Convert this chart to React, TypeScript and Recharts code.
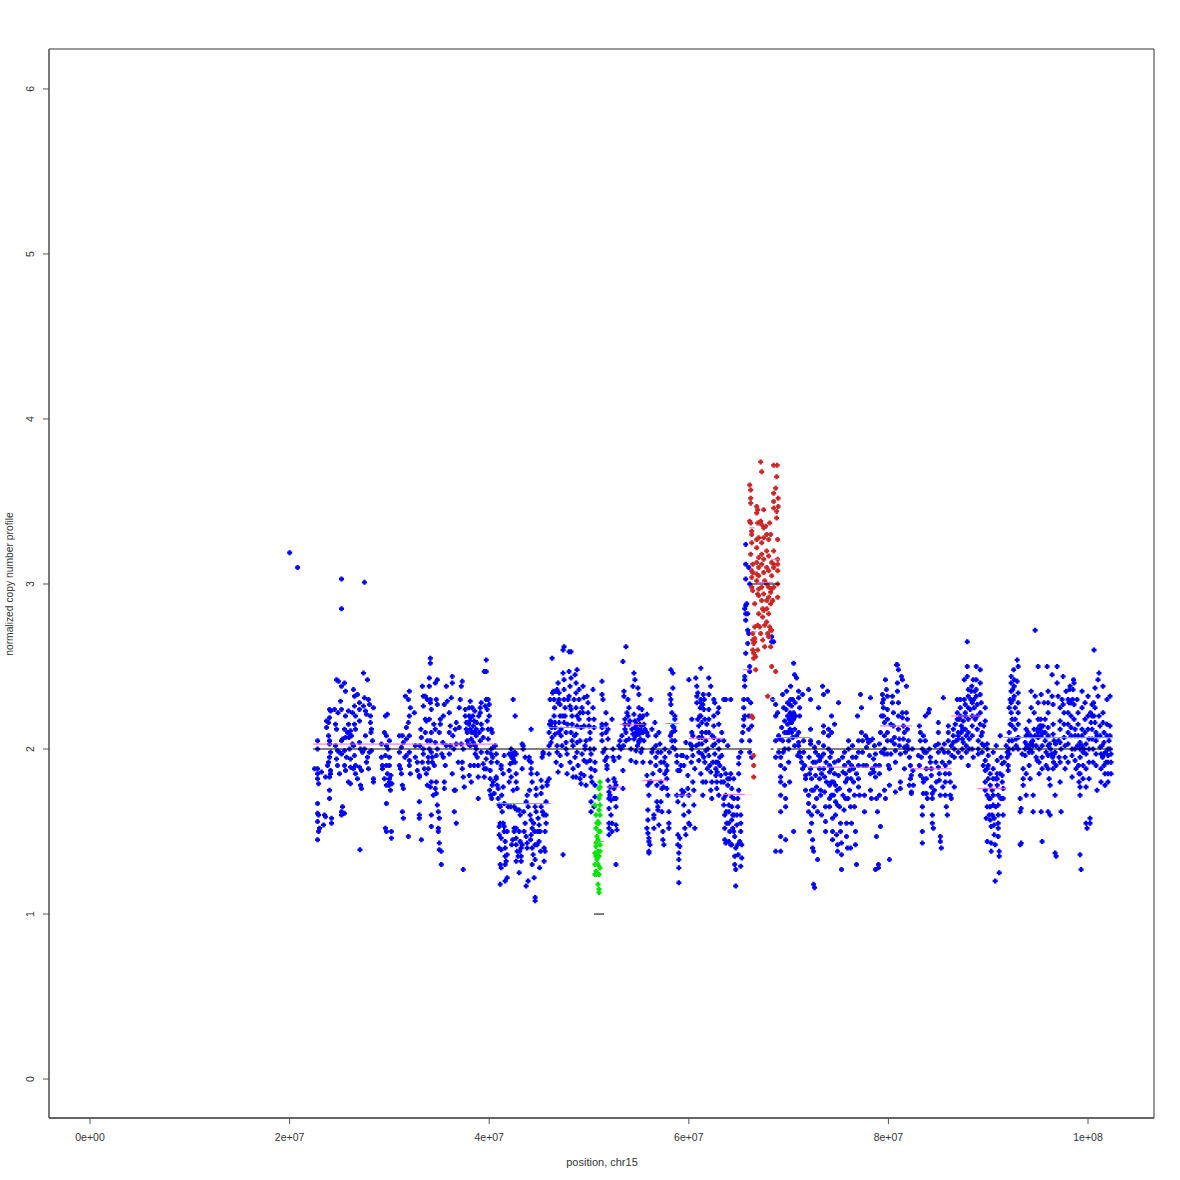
import React from "react";
import { ScatterChart, Scatter, XAxis, YAxis, ReferenceArea } from "recharts";

type P = [number, number];
// positions in Mb, values in copy number
const outliers: P[] = [[20,3.19],[20.8,3.1],[25.2,3.03],[25.2,2.85],[27.5,3.01],[27.05,1.39],[37.4,1.27],[47.4,1.36]];
const blue22: P[] = [[22.5,1.88],[22.8,2.05],[22.8,2],[22.8,1.88],[22.8,1.85],[22.8,1.82],[22.9,1.79],[22.8,1.67],[22.8,1.61],[22.9,1.6],[22.8,1.56],[22.9,1.5],[22.8,1.45],[23,1.52],[23.2,1.86],[23.4,1.54],[23.5,1.6],[23.6,1.83],[23.6,1.59],[23.8,1.9],[23.7,2.13],[23.7,2.17],[23.9,2.08],[24,2.24],[24.1,2.23],[24,2.19],[23.9,2.16],[24,2.05],[24,2.03],[24.1,1.98],[24,1.95],[23.9,1.92],[24.1,1.87],[24.1,1.85],[24,1.83],[24,1.75],[24,1.7],[24.2,1.58],[24.2,1.55],[24.5,2.24],[24.7,2.42],[24.9,2.41],[24.6,2.15],[24.7,2.12],[24.6,2.02],[24.8,1.99],[25,1.98],[24.7,1.94],[24.8,1.9],[25,1.85],[25.2,2.24],[25.1,2.29],[25.2,2.38],[25.2,2.05],[25.2,1.97],[25.2,1.62],[25.2,1.6],[25.3,1.65],[25.5,1.61],[25.5,2.4],[25.6,2.35],[25.6,2.2],[25.5,2.12],[25.6,2.07],[25.5,1.99],[25.7,1.95],[25.5,1.9],[25.6,1.87],[25.9,2.23],[25.9,2.15],[26,2.09],[26.2,2.08],[26,2],[26.1,1.94],[26.1,1.89],[25.9,1.8],[26.1,1.79],[26.3,2.22],[26.4,2.36],[26.5,2.32],[26.5,2.26],[26.6,2.2],[26.5,2.15],[26.6,2.12],[26.4,2.02],[26.5,1.96],[26.6,1.9],[26.4,1.88],[26.6,1.85],[26.8,1.82],[26.8,2.33],[27,2.28],[27,2.24],[27,2.17],[27,2.04],[27.1,2],[27,1.89],[27.2,1.87],[27.1,1.78],[27.2,1.76],[27.4,2.46],[27.4,2.26],[27.5,2.31],[27.6,2.23],[27.7,2.21],[27.8,2.42],[27.9,2.3],[27.6,2.08],[27.5,2],[27.8,1.95],[27.7,1.92],[27.9,1.88],[28,2.27],[28.1,2.2],[28.1,2.16],[28.2,2.12],[28.3,2.05],[28.4,2.25],[28,1.98],[28.2,1.99],[28.4,1.8],[28.4,1.82]];
const blue29: P[] = [[29.2,2.03],[29.2,1.95],[29.3,1.88],[29.3,1.9],[29.5,2.1],[29.5,1.82],[29.6,2.2],[29.7,2.08],[29.7,2.02],[29.8,2.21],[29.6,1.96],[29.7,1.9],[29.8,1.85],[29.7,1.78],[29.7,1.67],[29.6,1.52],[29.7,1.5],[30,2.05],[30,1.95],[30,1.9],[30,1.82],[30,1.8],[30.1,1.75],[30.2,1.46],[30.2,1.5],[31,2.08],[31,1.98],[31,1.9],[31.1,1.88],[31.2,1.85],[31.2,2.01],[31.3,2.08],[31.3,1.78],[31.4,1.76],[31.3,1.62],[31.4,1.58],[31.4,2.04],[31.6,2.32],[31.7,2.06],[31.7,2.13],[31.7,1.96],[31.9,2.16],[31.9,2.3],[32,2.35],[32.1,2.25],[32,2.2],[32,2.08],[32,1.98],[32,1.93],[32,1.9],[32.1,1.85],[31.9,1.47],[32.5,2.22],[32.6,2.02],[32.6,1.95],[32.8,1.92],[32.8,1.87],[33,1.84],[33,1.83],[33,1.68],[33,1.6],[33,1.58],[33.2,1.45],[33.3,2.38],[33.4,2.32],[33.4,2.26],[33.2,2.07],[33.4,2],[33.4,1.97],[33.3,1.92],[33.5,1.88],[33.6,2.32],[33.6,2.18],[33.8,2.3],[33.8,2.05],[33.7,2.17],[33.6,2.1],[33.9,1.95],[33.9,1.92],[33.9,1.88],[33.7,1.85],[33.8,1.78],[34.1,2.55],[34.1,2.52],[34,2.43],[34,2.38],[34.1,2.3],[34.1,2.28],[34.2,2.24],[34,2.18],[34.2,2.1],[34.1,2.05],[34,2],[34.2,1.98],[34.3,1.95],[34.3,1.92],[34.2,1.8],[34.1,1.77],[34.4,1.72],[34.2,1.6],[34.2,1.53],[34.6,2.4],[34.7,2.3],[34.8,2.27],[34.8,2.42],[34.6,2.12],[34.6,2.04],[34.7,1.96],[34.8,2],[34.6,1.76],[34.7,1.8],[34.7,1.73],[34.8,1.66],[34.9,1.62],[35,1.58],[34.9,1.52],[34.9,1.5],[35,1.43],[35,1.39],[35.2,1.3],[35.2,1.38],[35,2.1],[35.1,2.15],[35.1,2.18],[35.4,2.2],[35.5,2.27],[35.4,1.95],[35.6,1.9],[35.5,1.8],[35.5,1.76],[35.7,2.38],[36,2.1],[36.1,2.14],[36.1,2.02],[36,1.97],[35.8,2.29],[36,2.22],[36.2,2.31],[36.3,2.44],[36.3,2.4],[36.3,1.85],[36.5,1.75],[36.5,1.62],[36.6,1.75],[36.7,1.55],[36.7,2.03],[36.6,2.12],[36.7,2.16]];
const blue37: P[] = [[37,2.13],[37,2.25],[37.1,2.3],[37.2,2.38],[37.3,2.41],[37.2,2.03],[37.4,2],[37.3,1.92],[37.3,1.88],[37.4,1.83],[37.5,1.77],[37.6,2.24],[37.6,2.2],[37.7,2.16],[37.8,2.1],[37.8,2.05],[37.9,2.03],[38,2.2],[38,2.25],[38.1,2.29],[38.1,2.12],[38.1,2.02],[38.1,1.9],[38,1.84],[38.2,1.8],[38.3,2.25],[38.4,2.14],[38.5,2.1],[38.4,2.04],[38.5,2.17],[38.5,2.1],[38.7,2.08],[38.7,2.12],[38.6,2.02],[38.7,2],[38.6,1.97],[38.5,1.9],[38.8,1.95],[38.9,1.9],[38.9,1.83],[38.9,1.7],[39.1,2.25],[39.2,2.28],[39.1,2.22],[39.2,2.15],[39.3,2.12],[39.1,2.05],[39.2,1.98],[39.4,2.07],[39.4,1.91],[39.5,1.88],[39.5,1.83],[39.6,2.26],[39.7,2.3],[39.8,2.24],[39.7,2.54],[39.7,2.47],[39.5,2.47],[39.9,2.3],[39.8,2.17],[39.9,2.12],[39.9,2.06],[39.8,1.98],[39.7,1.94],[39.7,1.88],[40,2.27],[40,2.2],[40.2,2.12],[40.3,2.1],[40.2,2],[40.2,1.97],[40.2,1.92],[40.1,1.87],[40.1,1.82],[40.3,1.78],[40.4,1.8],[40.4,2.01],[40.6,2.02],[40.7,1.97],[40.8,1.92],[40.7,1.83],[40.7,1.82],[40.8,1.78],[40.9,1.76]];
const blue41: P[] = [[40.9,1.7],[41,1.66],[41.1,1.65],[41.1,1.55],[41,1.53],[41,1.48],[41.2,1.46],[41,1.4],[41.2,1.39],[41.1,1.3],[41.2,1.28],[41.1,1.18],[41.2,1.9],[41.2,1.88],[41.5,1.96],[41.4,1.85],[41.4,1.77],[41.5,1.67],[41.4,1.55],[41.5,1.53],[41.5,1.5],[41.6,1.44],[41.6,1.4],[41.6,1.35],[41.6,1.3],[41.6,1.2],[41.7,1.32],[41.8,1.36],[41.8,1.22],[41.8,1.5],[41.9,1.65],[42,1.8],[42,1.97],[42.1,1.91],[42,1.87],[42.2,1.83],[42.2,1.97],[42.2,2],[42.4,2.3],[42.4,1.94],[42.4,1.75],[42.5,1.65],[42.5,1.52],[42.5,1.5],[42.6,2.2],[42.7,1.97],[42.6,1.92],[42.7,1.85],[42.7,1.8],[42.8,1.76],[42.6,1.64],[42.8,1.63],[42.7,1.52],[42.7,1.46],[42.7,1.42],[42.8,1.38],[42.7,1.32],[43,1.63],[43.1,1.6],[43,1.5],[43.1,1.44],[43.2,1.4],[43.3,1.42],[43.2,1.35],[43.2,1.32],[43,1.25],[43.3,2.03],[43.4,2.02],[43.4,2],[43.3,1.88],[43.6,1.95],[43.7,1.68],[43.6,1.55],[43.8,1.72],[43.9,1.65],[43.7,1.47],[43.8,1.43],[43.8,1.4],[43.9,1.2],[43.7,1.17],[44,1.95],[44,1.93],[44.2,2.12],[44.2,1.92],[44.2,1.88],[44.2,1.85],[44.3,1.8],[44.1,1.6],[44.2,1.57],[44.3,1.52],[44.2,1.48],[44.3,1.4],[44.4,1.36],[44.3,1.3],[44.5,1.22],[44.6,1.1],[44.6,1.08],[44.6,1.33],[44.6,1.42],[44.7,1.62],[44.6,1.65],[44.7,1.72],[44.7,1.76],[44.8,1.85],[44.9,1.58],[45,1.54],[45.1,1.5],[45,1.44],[45.2,1.65],[45.2,1.73],[45.3,1.77],[45.2,1.81],[45.3,1.95],[45.4,1.98],[45.4,1.97],[45.5,1.4],[45.5,1.32],[45.6,1.38],[45.6,1.5],[45.7,1.55],[45.7,1.6],[45.7,1.68],[45.8,1.78],[45.8,1.8],[46,1.82],[46,1.97],[46,2.02],[46,2.1],[46.2,2.04],[46.3,2.07],[46.3,2.16],[46.1,2.3],[46.3,2.55]];
const blue46: P[] = [[46.5,2.3],[46.5,2.2],[46.6,2.16],[46.6,2.13],[46.6,2.09],[46.8,2.02],[46.8,1.98],[46.7,1.92],[46.9,1.86],[46.7,2.35],[46.8,2.36],[46.9,2.4],[47,2.34],[47,2.3],[47.1,2.27],[47.1,2.2],[47,2.16],[47.2,2.12],[47.2,2.08],[47.2,1.9],[47.1,1.96],[47.3,2.02],[47.4,2.6],[47.5,2.62],[47.4,2.46],[47.5,2.42],[47.5,2.36],[47.5,2.3],[47.6,2.25],[47.6,2.2],[47.5,2.16],[47.7,2.1],[47.7,2.04],[47.7,2],[47.8,1.97],[47.8,1.85],[48,2.59],[48.2,2.59],[48,2.47],[48.2,2.43],[48.1,2.38],[48,2.32],[48.1,2.26],[48.2,2.24],[48.3,2.2],[48.3,2.15],[48.2,2.1],[48.3,2.05],[48.4,2.02],[48.1,1.92],[48.4,1.88],[48.4,1.83],[48.6,2.45],[48.7,2.4],[48.8,2.48],[48.7,2.34],[48.7,2.25],[48.8,2.2],[48.8,2.14],[48.7,2.09],[48.8,2.04],[48.8,1.98],[48.9,1.9],[48.7,1.83],[49,2.36],[49,2.3],[49.1,2.22],[49,2.18],[49.2,2.13],[49.1,2.05],[49.2,1.85],[49.1,1.82],[49.2,1.79],[49.4,2.38],[49.5,2.31],[49.4,2.22],[49.5,2.14],[49.6,2.02],[49.6,2],[49.5,1.93],[49.5,1.84],[49.7,1.78],[49.8,2.32],[49.9,2.28],[49.9,2.22],[50,2.18],[50,2.14],[50.1,2.1],[50.1,2.06],[50.1,2],[50.2,1.97],[50.1,1.93],[50.2,1.88],[50.2,1.83],[50.3,1.8],[50.2,1.68],[50.2,1.62],[50.4,2.36],[50.4,2.25],[50.5,2.18],[50.5,2.13],[50.5,2],[50.6,1.92],[50.6,1.87],[50.6,1.78],[50.6,1.71],[50.5,1.65]];
const blue51: P[] = [[51.3,2.41],[51.3,2.33],[51.4,2.3],[51.3,2.15],[51.3,2.13],[51.3,2.09],[51.3,2.05],[51.4,1.98],[51.6,1.93],[51.7,2.22],[51.7,2.15],[51.7,2.1],[51.6,2],[51.9,2.12],[51.9,2.06],[51.8,1.95],[51.8,1.9],[51.8,1.88],[51.9,1.81],[52,1.74],[52,1.7],[52,1.64],[52,1.55],[52,1.52],[52,1.48],[52.1,1.77],[52.1,1.72],[52.2,1.69],[52.2,1.6],[52.3,1.55],[52.3,1.5],[52.3,2.18],[52.4,2],[52.4,1.95],[52.5,1.93],[52.5,1.82],[52.5,1.76],[52.5,1.7],[52.6,1.8],[52.7,1.78],[52.7,1.7],[52.7,1.65],[52.7,1.54],[52.8,1.51],[52.7,1.3],[53,1.95],[53,2.02],[53.1,2.05],[53.2,2],[53.4,2.53],[53.5,2.35],[53.5,2.32],[53.4,1.87],[53.4,1.76],[53.6,2.15],[53.6,2.12],[53.7,2.62],[53.6,2.18],[53.7,2.1],[53.7,2.05],[53.9,2.3],[53.8,2.22],[53.9,2.2],[54,2.25],[54,2.15],[54.1,2.17],[54,2.06],[54.2,2],[54.2,1.93],[54.4,2.38],[54.5,2.46],[54.6,2.42],[54.5,2.21],[54.6,2.13],[54.7,2.1],[54.7,2.08],[54.7,1.99],[54.7,1.92],[54.9,2.37],[55,2.33],[55,2.25],[55,2.18],[55.1,2.15],[54.9,2.1],[55.2,2.11],[55,2.05],[55,2.04],[55.2,1.98],[55.3,2.19],[55.3,2.24],[55.4,2.2],[55.5,2.15],[55.4,2.1],[55.6,2.12],[55.5,2.05],[55.3,2],[55.4,1.92],[55.8,2.21],[55.8,2.1],[55.9,2.08],[55.8,1.84],[55.9,1.78],[56,1.72],[55.9,1.63],[55.9,1.57],[55.8,1.52],[55.9,1.49],[56,1.46],[56,1.44],[56.1,1.42],[56,1.38],[56,1.37],[56.1,1.8],[56.3,2.12],[56.2,2.3],[56.3,1.98],[56.2,1.8],[56.4,1.85],[56.5,1.6],[56.5,1.58],[56.5,1.52],[56.6,2.16],[56.7,2.08],[56.7,2.02],[56.7,1.95],[56.7,1.9],[56.8,1.78],[56.8,1.68],[56.9,1.65],[56.9,1.63],[57,1.54],[57,2.1],[57.1,2.03],[57.2,1.98],[57.2,1.92],[57.1,1.87],[57.2,1.8],[57.3,1.76],[57.2,1.68],[57.3,1.62],[57.4,1.45],[57.4,1.5],[57.5,1.42]];
const blue57: P[] = [[57.6,2],[57.6,1.95],[57.6,1.85],[57.8,1.9],[57.8,1.87],[57.8,1.82],[57.8,1.76],[57.9,1.72],[58,1.62],[58,1.55],[58,1.52],[58.2,2.48],[58.4,2.46],[58.1,2.33],[58.2,2.3],[58.2,2.27],[58.4,2.37],[58.3,2.22],[58.4,2.14],[58.5,2.13],[58.3,2.1],[58.3,2.05],[58.4,2.01],[58.6,2.2],[58.6,2.18],[58.6,2.11],[58.6,2.05],[58.6,2],[58.8,1.96],[58.8,1.92],[58.9,1.87],[58.8,1.72],[58.9,1.68],[58.9,1.48],[58.9,1.42],[59,1.37],[59,1.33],[59,1.28],[59,1.19],[59.1,1.46],[59.1,1.41],[59.1,1.87],[59.3,1.72],[59.3,1.75],[59.4,1.96],[59.5,1.9],[59.5,1.74],[59.5,1.66],[59.5,1.6],[59.6,1.52],[59.7,1.48],[59.7,2.04],[59.8,1.95],[59.9,1.84],[59.9,1.76],[60,1.72],[60,1.62],[60,1.55],[60.1,1.54],[60,2.42],[60.3,2.18],[60.3,2.1],[60.4,2.08],[60.3,2.02],[60.3,2],[60.4,1.96],[60.4,1.8],[60.5,1.75],[60.6,1.52],[60.5,1.66],[60.7,2.43],[60.8,2.38],[60.8,2.32],[60.8,2.28],[60.9,2.34],[60.9,2.18],[61,2.14],[61,2.07],[61,2.03],[61,1.98],[61,1.93],[61.2,2.49],[61.2,2.3],[61.2,2.28],[61.2,2.2],[61.3,2.16],[61.3,2.1],[61.3,2.07],[61.3,2.03],[61.3,1.97],[61.2,1.85],[61.4,1.8],[61.4,1.72],[61.5,2.24],[61.6,2.18],[61.7,2.1],[61.7,2.05],[61.7,1.99],[61.6,1.92],[61.7,1.8],[62,2.43],[62.2,2.38],[62,2.33],[62,2.24],[62,2.18],[62,2.1],[61.9,2],[62,1.96],[62.1,1.9],[62.2,1.86],[62.3,1.8],[62.2,1.75],[62.3,1.7],[62.5,2.3],[62.6,2.28],[62.5,2.2],[62.5,2.14],[62.5,2.07],[62.6,2.03],[62.6,1.97],[62.7,1.92],[62.7,1.88],[62.7,1.84],[62.8,1.8],[62.8,1.76],[62.9,2.22],[63,2.25],[63,2.15],[63,2.05],[63,2],[63.1,1.95],[63.1,1.9],[63.2,1.84],[63,1.72],[63.3,1.96],[63.5,2.3],[63.5,2.05],[63.5,1.88],[63.5,1.8],[63.5,1.7],[63.5,1.66],[63.6,1.52],[63.7,2.3],[63.6,1.6],[63.7,1.85],[63.6,1.45],[63.7,1.43]];
const blue64: P[] = [[63.9,2.02],[63.9,1.82],[63.9,1.78],[64,1.66],[64,1.62],[64,1.55],[64,1.44],[64.2,1.42],[64.2,2.3],[64.2,1.85],[64.3,1.76],[64.3,1.71],[64.3,1.65],[64.3,1.57],[64.4,1.52],[64.3,1.42],[64.5,1.82],[64.5,1.7],[64.5,1.6],[64.5,1.5],[64.6,1.47],[64.7,1.4],[64.6,1.35],[64.6,1.3],[64.7,1.27],[64.7,1.17],[64.8,1.54],[64.8,1.6],[64.9,1.7],[64.9,1.65],[65,1.75],[65,1.85],[65,1.91],[65,1.95],[65.2,1.98],[65.3,2.05],[65.2,1.6],[65.2,1.55],[65.2,1.5],[65.3,1.34],[65.3,1.42],[65.2,1.29],[65.4,2.1],[65.5,2.14],[65.5,2.18],[65.6,2.2],[65.5,2.25],[65.5,2.3],[65.6,2.38],[65.6,2.42],[65.6,2.44],[65.7,3.24],[65.7,3.12],[65.7,3.03],[65.7,2.87],[65.6,2.85],[65.7,2.82],[65.7,2.78],[65.7,2.58],[65.8,2.88],[65.9,2.82],[65.9,2.72],[66,2.7],[66,3.1],[66.1,3],[65.9,2.64],[66.1,2.5],[66.1,2.47],[65.9,2.3],[66,2.2],[66,2.12],[66.1,2.05],[66.1,1.98],[66.2,2.28],[66.3,1.95],[66.3,2.14]];
const blue68: P[] = [[68.3,2.68],[68.3,2.65],[68.5,2.65],[68.4,2.3],[68.7,2.27],[68.7,2.2],[68.7,2.05],[68.7,1.95],[68.7,1.38],[68.9,2.22],[69,2.08],[69.1,2.06],[69,1.98],[69.2,1.95],[69.2,1.9],[69.2,1.83],[69.2,1.8],[69.2,1.72],[69.2,1.62],[69.2,1.47],[69.2,1.38],[69.4,2.33],[69.5,2.25],[69.6,2.17],[69.6,2.1],[69.6,2],[69.6,1.88],[69.6,1.78],[69.7,1.7],[69.7,1.65],[69.7,1.45],[69.8,2.35],[69.9,2.28],[69.9,2.2],[69.9,2.15],[70,2.1],[70,2.05],[70,2],[70,1.92],[70.1,1.8],[70.2,2.38],[70.2,2.3],[70.3,2.26],[70.3,2.2],[70.3,2.16],[70.3,2.1],[70.4,2.07],[70.5,2.22],[70.5,2.18],[70.6,2.12],[70.6,2.02],[70.5,2.52],[70.6,2.45],[70.5,1.5],[70.8,2.43],[71,2.35],[71,2.31],[71.1,2.25],[71.1,2.2],[71,2.1],[71,2.04],[71,2.02],[71.1,1.98],[71.2,1.95],[71.3,1.92],[71.4,1.88],[71.4,2.33],[71.5,2.05],[71.5,1.98],[71.6,1.9],[71.7,1.84],[71.7,1.82],[71.7,1.75],[72,1.62],[72,2.36],[72,1.72],[72,1.67],[72.1,1.5],[72.2,2.3],[72.2,2.12],[72.2,2.05],[72.2,2.03],[72.2,1.88],[72.3,1.82],[72.3,1.75],[72.3,1.6],[72.3,1.55],[72.4,1.45],[72.4,1.4],[72.5,1.38],[72.5,1.18],[72.6,1.16],[72.6,2.01],[72.7,1.98],[72.7,1.92],[72.7,1.84],[72.8,1.77],[72.8,1.7],[72.9,1.62],[72.9,1.33],[73,2.25],[73,2.04],[73,1.96],[73.1,1.93],[73.1,1.88],[73.1,1.82],[73.2,1.75],[73.2,1.72],[73.3,1.6],[73.4,2.38],[73.5,2.33],[73.5,2.14],[73.5,2.1],[73.5,2.02],[73.5,1.97],[73.5,1.88],[73.6,1.83],[73.6,1.74],[73.7,1.65],[73.7,1.5],[73.7,1.56],[73.9,2.35],[74,2.12],[74,2.08],[74,2],[74.1,1.9],[74.1,1.86],[74.1,1.78],[74.1,1.7],[74.1,1.65],[74.3,2.2],[74.3,2.1],[74.3,1.98],[74.3,1.88],[74.3,1.8],[74.3,1.72],[74.4,1.58],[74.4,1.5],[74.4,1.45],[74.6,2.15],[74.6,1.92],[74.6,1.85],[74.7,1.78],[74.7,1.68],[74.7,1.6],[74.8,1.48],[74.9,1.42],[74.9,1.38],[75,2.28],[75,1.93],[75,1.84],[75.1,1.76],[75.1,1.65],[75.2,1.55],[75.2,1.5],[75.3,1.43],[75.3,1.36],[75.3,1.27],[75.6,1.98],[75.6,1.9],[75.7,1.85],[75.7,1.8],[75.7,1.7],[75.8,1.55],[75.8,1.47],[75.9,1.4],[76,2],[76,2.05],[76,1.92],[76.1,1.87],[76.1,1.75],[76.2,1.65],[76.3,1.55],[76.2,1.4],[76.4,2.02],[76.4,1.95],[76.5,1.88],[76.5,1.8],[76.6,1.72],[76.6,1.65],[76.7,1.5],[76.7,1.42],[76.8,1.3],[76.9,2.2],[77,2.05],[77,1.98],[77,1.9],[77,1.82],[77,1.77],[77.1,1.72],[77.2,2.33],[77.3,2.25],[77.3,2.1],[77.4,2.05],[77.4,1.98],[77.5,1.9],[77.6,1.62],[77.6,1.72],[77.7,2.08],[77.8,2.01],[77.9,2.06],[77.8,1.9],[78,2.04],[78.1,1.96],[78.2,2.05],[78.2,1.85],[78.2,1.75],[78.3,1.7],[78.2,2.31],[78.4,2.06],[78.4,1.88]];
const blue78: P[] = [[78.6,2.02],[78.7,1.97],[78.7,1.9],[78.7,1.83],[78.8,1.7],[78.9,1.62],[78.8,1.47],[78.7,1.27],[79,1.28],[79,1.3],[79.1,2.03],[79.1,1.9],[79.1,1.85],[79.1,1.72],[79.2,1.53],[79.2,2.1],[79.4,2.28],[79.4,2.33],[79.5,2.3],[79.5,2.25],[79.5,2.2],[79.6,2.16],[79.6,2.08],[79.6,2],[79.6,1.97],[79.6,1.75],[79.7,1.7],[79.7,2.42],[79.8,2.36],[79.9,2.32],[79.9,2.24],[79.9,2.18],[79.9,2.1],[79.9,2.05],[79.9,1.97],[80,1.9],[80.1,1.88],[80.1,1.78],[80.1,1.33],[80.4,2.32],[80.4,2.28],[80.5,2.22],[80.5,2.14],[80.6,2.07],[80.6,2.03],[80.7,1.99],[80.7,1.92],[80.7,1.74],[80.8,2.51],[80.9,2.51],[81,2.48],[80.9,2.4],[80.9,2.35],[81,2.28],[81,2.2],[81,2.12],[81.1,2.06],[81.1,2.02],[81.2,1.97],[81.2,1.8],[81.2,1.76],[81.3,2.44],[81.4,2.42],[81.4,2.22],[81.4,2.19],[81.5,2.14],[81.6,2.1],[81.5,2.06],[81.6,2.01],[81.7,1.98],[81.6,1.88],[81.8,2.38],[81.8,2.22],[81.9,2.18],[81.9,2.12],[82,2.05],[82.1,1.95],[82,2],[82.2,1.9],[82.2,1.82],[82.1,1.78],[82.3,1.84],[82.3,1.74],[82.3,1.73],[83.1,2.14],[83.2,2.1],[83.2,2.05],[83.2,1.84],[83.3,1.95],[83.4,2],[83.5,2.08],[83.5,1.82],[83.5,1.8],[83.5,1.73],[83.4,1.65],[83.4,1.6],[83.4,1.5],[83.4,1.43],[83.6,1.98],[83.7,2.2],[83.7,2.05],[83.8,1.98],[83.8,1.88],[83.8,1.82],[83.8,1.73],[83.9,1.7],[84,2.22],[84.1,2.24],[84.1,2],[84.2,1.95],[84.2,1.92],[84.3,1.88],[84.3,1.84],[84.3,1.77],[84.4,1.73],[84.4,1.7],[84.4,1.6],[84.4,1.55],[84.5,1.52],[84.6,1.75],[85,2.16],[85,2.1],[85,2.03],[85,1.98],[85,1.89],[85.1,1.85],[85.1,1.81],[85.2,1.72],[85.2,1.47],[85.2,1.44],[85.3,1.4],[85.5,2.31],[85.6,2.03],[85.6,1.98],[85.7,1.9],[85.7,1.85],[85.7,1.8],[85.7,1.72],[85.8,1.65],[85.9,1.6],[86,2.14],[86,2.1],[86,2.05],[86,1.98],[86.1,1.92],[86.1,1.85],[86.2,1.8],[86.2,1.72],[86.3,1.7]];
const blue86: P[] = [[86.5,2.12],[86.5,2.08],[86.5,2.04],[86.6,2],[86.6,1.95],[86.6,1.77],[86.9,2.3],[86.9,2.22],[86.9,2.18],[87,2.1],[87,2.08],[87,2.06],[87,1.98],[87.2,2.3],[87.2,2.25],[87.2,2.2],[87.3,2.14],[87.3,2.1],[87.4,2.06],[87.4,2],[87.3,1.95],[87.6,2.42],[87.6,2.3],[87.7,2.27],[87.7,2.22],[87.7,2.2],[87.7,2.12],[87.8,2.08],[87.8,2.02],[87.8,1.98],[87.9,2.65],[87.9,2.5],[87.9,2.44],[88,2.36],[88,2.32],[88,2.25],[88,2.18],[88,2.1],[88.1,2.06],[88.1,2],[88,1.9],[88.4,2.28],[88.4,2.2],[88.4,2.14],[88.4,2.08],[88.4,2],[88.5,1.95],[88.8,2.5],[88.8,2.42],[88.8,2.36],[88.8,2.32],[88.9,2.27],[88.9,2.2],[88.9,2.12],[89,2.05],[89,2],[89,1.97],[89.2,2.48],[89.2,2.4],[89.2,2.33],[89.3,2.28],[89.2,2.22],[89.2,2.15],[89.3,2.08],[89.4,2.1],[89.4,2.03],[89.4,1.98],[89.5,1.9],[89.7,1.93],[89.7,1.87],[89.7,1.8],[89.7,1.75],[89.7,2.25],[89.7,2.17],[89.9,2.03],[89.9,2],[90,1.96],[89.9,1.88],[90,1.82],[89.9,1.72],[89.9,1.65],[89.8,1.58],[89.9,1.44],[90,1.9],[90.2,1.85],[90.2,1.78],[90.2,1.7],[90.2,1.65],[90.2,1.57],[90.3,1.53],[90.3,1.43],[90.3,1.38],[90.5,1.98],[90.5,1.88],[90.5,1.82],[90.5,1.72],[90.5,1.66],[90.6,1.58],[90.6,1.54],[90.6,1.48],[90.7,1.42],[90.7,1.2],[90.8,2.02],[90.9,1.93],[90.9,1.85],[90.9,1.82],[90.9,1.78],[91,1.72],[91,1.66],[91,1.6],[91,1.55],[91,1.52],[91,1.47],[91.1,1.38],[91.1,1.35],[91.1,1.25],[91.2,2.08],[91.3,1.95],[91.4,1.91],[91.4,1.84],[91.4,1.8],[91.5,1.76],[91.5,1.7],[91.5,1.6],[91.8,2.02],[91.9,1.98],[91.9,1.95],[92,1.9],[92,1.87]];
const blue92: P[] = [[92.1,2.25],[92.1,2.1],[92.1,2.05],[92.1,2],[92.1,1.97],[92.3,2.4],[92.3,2.44],[92.3,2.35],[92.3,2.28],[92.3,2.22],[92.4,2.18],[92.4,2.14],[92.4,2.05],[92.5,2],[92.6,2.42],[92.6,2.38],[92.6,2.32],[92.7,2.25],[92.7,2.18],[92.7,2.12],[92.8,2.06],[92.8,2.02],[92.9,2.54],[93,2.5],[92.9,2.41],[93,2.34],[93,2.28],[93,2.22],[93,2.15],[93,2.07],[93,2],[93.2,1.7],[93.2,1.62],[93.2,1.42],[93.3,1.43],[93.3,1.64],[93.4,1.97],[93.5,1.88],[93.5,1.82],[93.5,1.78],[93.7,2.04],[93.7,2],[93.7,1.96],[93.8,2.08],[93.8,2.12],[93.8,1.85],[93.8,1.72],[94,2.1],[94.1,2.17],[94.1,2.02],[94.1,1.98],[94.1,1.9],[94.2,1.82],[94.3,2.35],[94.3,2.25],[94.3,2.04],[94.4,1.98],[94.5,1.72],[94.5,1.62],[94.6,2.22],[94.7,2.72],[94.7,2.32],[94.6,2.12],[94.7,2.08],[94.8,2.02],[94.8,1.95],[94.9,1.93],[95,2.5],[95,2.28],[95,2.18],[95,2.1],[95,2.07],[95.1,2],[95.1,1.92],[95.1,1.85],[95.3,2.33],[95.3,2.14],[95.3,2.08],[95.4,2.02],[95.4,1.95],[95.4,1.88],[95.3,1.62],[95.4,1.44],[95.6,2.28],[95.7,2.18],[95.7,2.1],[95.7,2.05],[95.8,1.98],[95.8,1.9],[95.9,2.5],[96,2.35],[96,2.28],[96,2.22],[96,2.13],[96,2.08],[96,2.02],[96,1.96],[96,1.88],[96.1,1.82],[96,1.62],[96.2,1.6],[96.2,1.78],[96.4,2.45],[96.4,2.32],[96.5,2.27],[96.5,2.15],[96.5,2.09],[96.6,2.05],[96.6,1.97],[96.5,1.88],[96.7,1.72],[96.7,1.37],[96.8,1.35],[96.9,2.5],[96.9,2.4],[97,2.32],[97.2,2.25],[97.2,2.17],[97.2,2.12],[97.2,2.04],[97.3,2],[97.2,1.92],[97.2,1.8],[97.3,1.62],[97.4,2.3],[97.5,2.44],[97.5,2.27],[97.6,2.22],[97.6,2.15],[97.6,2.07],[97.7,2.02],[97.7,1.95],[97.7,1.88],[97.8,2.35],[98,2.3],[98,2.22],[98,2.15],[98,2.1],[98,2.03],[98,1.92],[98.2,2.38],[98.3,2.28],[98.3,2.2],[98.3,2.13],[98.3,2.08],[98.4,2],[98.4,1.96],[98.4,1.83],[98.6,2.4],[98.6,2.27],[98.6,2.18],[98.7,2.12],[98.7,2.08],[98.7,2],[98.7,1.93],[98.8,1.88],[99,2.22],[99,2.15],[99,2.08],[99.2,2.04],[99.2,2],[99.2,1.95],[99.2,1.85],[99.2,1.77],[99.2,1.72],[99.2,1.36],[99.3,1.27]];
const blue99: P[] = [[99.4,2.35],[99.4,2.25],[99.4,2.12],[99.4,2.08],[99.4,2.02],[99.5,1.98],[99.5,1.9],[99.5,1.82],[99.7,2.28],[99.7,2.18],[99.7,2.1],[99.8,2.03],[99.8,1.97],[99.8,1.88],[99.8,1.77],[99.8,1.55],[99.9,1.52],[100,2.32],[100,2.2],[100,2.12],[100.1,2.06],[100.1,2],[100.1,1.92],[100.1,1.82],[100.2,1.58],[100.2,1.55],[100.4,2.27],[100.4,2.2],[100.4,2.12],[100.4,2.06],[100.5,2],[100.5,1.92],[100.6,2.6],[100.7,2.37],[100.7,2.25],[100.7,2.16],[100.8,2.1],[100.8,2.05],[100.8,1.97],[100.8,1.9],[100.9,1.75],[101,2.32],[101,2.42],[101.1,2.46],[101.1,2.2],[101.2,2.14],[101.2,2.08],[101.2,2.01],[101.3,1.97],[101.3,1.88],[101.3,1.8],[101.5,2.38],[101.5,2.22],[101.5,2.16],[101.6,2.1],[101.6,2.04],[101.6,1.97],[101.6,1.9],[101.7,1.85],[101.7,1.78],[101.9,2.3],[101.9,2.15],[101.9,2.08],[102,2],[102,1.96],[102,1.92],[102,1.85],[102,1.8],[102.2,2.32],[102.2,2.14],[102.2,2.08],[102.2,2],[102.3,1.97],[102.3,1.92],[102.3,1.85]];
// tight clumps that the first reading left out
const clumpsLeft: P[] = [[25.8,2.1],[25.95,2.07],[26.1,2.11],[25.3,2.06],[26.3,2.03],[24.85,2.22],[27.3,1.98],[28.15,2.1],[29.95,1.78],[30.15,1.84],[30.25,1.79],[29.85,2],[31.55,1.95],[33.15,2.12],[33.05,2.02],[34.45,2.15],[34.5,1.9],[35.25,1.97],[35.35,2.04],[35.7,2.02],[36.35,2.08],[36.45,2],[36.9,1.92],[37.7,2.12],[37.95,2.15],[38.05,2.17],[38.15,2.19],[38.25,2.1],[38.35,2.2],[38.2,2.06],[38.55,2.23],[38.75,2.16],[38.95,2.2],[39,2.1],[40.05,1.75],[40.15,1.72],[40.25,1.7],[40.35,1.95],[40.5,1.73],[41.25,1.72],[41.3,1.62],[42.25,1.95],[42.35,1.92],[42.45,1.96],[42.55,1.98],[42.15,1.65],[42.25,1.42],[42.35,1.45],[42.9,1.35],[43.05,1.38],[43.5,1.5],[43.45,1.62],[44.05,1.75],[44.15,1.45],[44.45,1.55],[44.55,1.5],[44.8,1.42],[44.85,1.5],[45.05,1.28],[45.15,1.38],[45.35,1.62],[45.45,1.6],[46.05,2.15],[46.15,2.17],[46.25,2.13],[46.35,2.34],[46.45,2.35],[46.55,2.25],[46.9,2.28],[46.95,2.1],[47.35,2.2],[47.85,2.15],[47.9,2.3],[48.5,2.3],[48.55,2.08],[48.6,1.95],[49.3,2.25],[49.3,1.97],[49.7,2.05],[49.75,1.92]];
const clumpsMid: P[] = [[53.3,2.08],[53.45,2.02],[54.3,2.12],[54.4,2.09],[54.5,2.06],[54.6,2.17],[54.8,2.15],[54.85,2.02],[54.95,2.12],[55.05,2.09],[55.15,2.06],[55.1,2.2],[55.25,2.14],[56.15,1.92],[56.4,2],[56.9,1.98],[57.5,1.92],[57.45,1.77],[58.05,1.98],[58.15,2.08],[59.2,1.9],[59.25,1.96],[60.15,2.03],[60.25,1.92],[60.6,1.88],[60.75,2.02],[61.1,2.2],[61.15,2.25],[61.45,2.33],[61.4,2.27],[61.55,2.3],[61.5,1.95],[61.85,1.88],[61.8,2.15],[62.35,2.08],[62.4,2.02],[62.4,1.92],[62.9,1.92],[62.85,1.86],[63.25,1.8],[63.3,2.1],[63.7,1.72],[63.75,1.62],[63.8,1.55],[64.1,1.82],[64.1,1.5],[64.4,1.6],[64.9,1.42],[64.95,1.36],[65.1,1.44],[69.3,2.13],[69.4,2.05],[69.45,1.98],[69.75,2.24],[69.85,2.1],[70.1,2.27],[70.15,2.22],[70.2,2.16],[70.15,2.12],[70.05,2.18],[70.4,2.3],[70.65,2.28],[70.7,2.2],[70.8,2.08],[70.9,1.96],[72.05,1.95],[72.1,1.85],[72.45,1.92],[72.5,1.75],[72.55,1.65],[73.25,1.95],[73.3,1.85],[73.75,1.92],[73.8,1.8],[74.15,1.95],[74.5,1.72],[74.5,1.8],[74.85,1.75],[74.9,1.66],[75.4,1.95],[75.45,1.86],[75.45,1.72],[75.55,1.63],[75.9,1.82],[75.95,1.7],[76.3,1.9],[76.25,1.82],[76.8,1.85],[76.75,1.95]];
const clumpsRight: P[] = [[78.5,1.94],[78.55,1.86],[79.3,1.98],[79.3,2.2],[80.25,2.15],[80.3,2.05],[80.25,1.97],[81.85,2.02],[82.4,2],[82.45,1.87],[82.5,1.78],[83,1.96],[83.1,1.9],[84.7,2.02],[84.75,1.92],[84.8,1.8],[85.35,2],[85.4,1.92],[85.45,1.77],[86.3,2.02],[86.35,1.96],[86.7,2.15],[86.8,2.05],[87.1,2.18],[87.5,2.17],[87.45,2.12],[87.5,2.04],[88.2,2.24],[88.25,2.3],[88.3,2.35],[88.35,2.38],[88.55,2.3],[88.6,2.25],[88.65,2.35],[88.7,2.18],[88.5,2.42],[89.55,2.02],[89.55,2.14],[90.1,1.7],[90.1,1.6],[90.4,1.75],[90.4,1.6],[90.75,1.82],[90.75,1.65],[91.2,1.85],[91.25,1.7],[91.6,1.92],[92.2,2.3],[92.2,2.15],[92.5,2.3],[92.45,2.36],[92.55,2.48],[93.9,2.02],[94.2,2],[94.25,2.08],[94.35,2.03],[94.45,2.05],[94.5,2.02],[94.9,2.12],[95.15,2.14],[95.2,2.12],[95.25,2.18],[95.45,2.1],[95.5,2.14],[96.15,2.03],[96.25,2],[96.35,1.97],[96.45,1.95],[96.55,1.92],[96.7,1.98],[96.75,2.03],[96.8,1.9],[97.05,2.05],[97.1,1.95],[98.1,2.28],[98.15,2.36],[98.45,2.3],[98.5,2.36],[98.55,2.42],[98.9,2.3],[98.95,2.02],[99.05,1.9],[99.1,1.85],[99.1,1.8],[100.25,2.22],[100.3,2.16],[100.55,2.28],[100.6,2.2],[100.9,2.08],[101.4,2.02],[101.45,1.95],[101.75,1.98],[101.8,1.92],[102.1,2.05],[99.6,2]];
const green: P[] = [[50.6,1.66],[50.7,1.6],[50.7,1.52],[50.8,1.47],[50.7,1.43],[50.7,1.41],[50.6,1.37],[50.7,1.35],[50.8,1.33],[50.6,1.3],[50.7,1.26],[50.7,1.24],[50.8,1.25],[50.9,1.56],[50.9,1.45],[50.9,1.38],[50.9,1.3],[51,1.15],[51,1.13],[51,1.55],[51.1,1.6],[51.1,1.72],[51.1,1.77],[51,1.76],[51.1,1.66],[51,1.63],[51,1.35],[51,1.24],[51,1.5],[51.1,1.42],[51.1,1.38],[51.1,1.5],[51.1,1.8],[51,1.7],[50.8,1.55],[50.8,1.35],[50.9,1.18],[50.6,1.24],[51.1,1.28]];
const red: P[] = [[66.1,3.6],[66.2,3.57],[66.2,3.52],[66.2,3.49],[66.1,3.38],[66.2,3.37],[66.3,3.32],[66.3,3.3],[66.3,3.25],[66.2,3.18],[66.4,3.12],[66.3,3.08],[66.4,3.07],[66.3,3.04],[66.3,2.98],[66.4,2.96],[66.4,2.7],[66.4,2.66],[66.5,2.64],[66.4,2.6],[66.5,2.58],[66.5,2.55],[66.6,2.67],[66.6,2.74],[66.6,2.65],[66.7,2.56],[66.7,2.48],[66.8,3.47],[66.8,3.43],[66.8,3.27],[66.8,3.22],[66.8,3.13],[66.8,3.06],[66.8,3.02],[66.9,2.94],[66.9,2.75],[66.9,2.6],[66.9,3.45],[66.9,3.37],[67,3.28],[67,3.16],[67,3.1],[67,3.05],[67,2.97],[67,2.93],[67,2.82],[67.1,2.74],[67.2,3.74],[67.3,3.68],[67.2,3.38],[67.3,3.36],[67.3,3.25],[67.3,3.18],[67.3,3.12],[67.3,2.98],[67.3,2.9],[67.4,2.85],[67.4,2.8],[67.4,2.66],[67.5,3.45],[67.5,3.34],[67.5,3.28],[67.5,3.15],[67.5,3.07],[67.5,2.94],[67.5,2.84],[67.6,2.75],[67.6,2.62],[67.7,3.35],[67.8,3.3],[67.8,3.2],[67.8,3.1],[67.8,3],[67.8,2.9],[67.8,2.85],[67.8,2.77],[67.9,2.7],[68,3.27],[68,3.17],[68,3.08],[68,2.98],[68,2.92],[68,2.82],[68.1,2.74],[68,2.68],[68.1,3.37],[68.2,3.3],[68.2,2.95],[68.2,2.88],[68.2,2.72],[68.2,2.62],[68.3,3.13],[68.3,3.05],[68.3,2.97],[68.3,2.72],[68.3,2.5],[68.5,3.72],[68.5,3.55],[68.5,3.5],[68.5,3.46],[68.5,3.2],[68.5,3.12],[68.5,3.1],[68.5,2.98],[68.8,3.65],[68.8,3.44],[68.8,3.4],[68.9,3.27],[68.9,3.15],[68.9,3.12],[68.9,3.08],[68.9,3],[68.9,2.92],[68.7,2.47],[66.3,2.2],[66.4,2.19],[66.5,1.96],[66.5,1.9],[66.5,1.83],[67.9,2.32],[66.6,2.88],[67.2,2.7],[67.6,3.02],[68.4,2.9],[68.95,3.52],[68.95,3.47],[68.7,3.58],[68.85,3.72]];

const blackSegs: number[][] = [[22.35,50.8,2],[51.2,66.3,2],[68.2,68.5,2],[68.85,102.5,2],[66.2,69.05,3],[50.5,51.5,1]];
const pinkSegs: number[][] = [[22.35,40.8,2.03],[40.7,46.15,1.67],[46,50.7,2.13],[50.5,51.5,1.44],[51.2,51.9,2.13],[51.7,53.2,1.77],[53.05,55.55,2.15],[55.35,57.85,1.81],[57.65,59,2.155],[58.75,60.2,1.72],[60,63.5,2.065],[63.4,65.6,1.725],[65.4,66.3,2.48],[66.05,66.6,3.34],[66.35,66.8,2.71],[66.9,68.45,3.01],[68.25,69.1,3.15],[68.25,68.65,2.3],[68.85,72.15,2.07],[71.85,79.3,1.89],[79.15,82.35,2.14],[82.15,86.35,1.88],[86.3,89.25,2.2],[89,91.75,1.76],[91.5,102.5,2.07]];
const xTicks = [0, 20000000, 40000000, 60000000, 80000000, 100000000];
const xTickLabels = ["0e+00", "2e+07", "4e+07", "6e+07", "8e+07", "1e+08"];
const yTicks = [0, 1, 2, 3, 4, 5, 6];
const xDomain = [-4108000, 106610000];
const yDomain = [-0.236, 6.242];
const FONT = "'Liberation Sans', Arial, sans-serif";

const toRows = (pts: P[]) => pts.map(([x, y]) => ({ x: x * 1e6, y }));
const segRows = (s: number[]) => [{ x: s[0] * 1e6, y: s[2] }, { x: s[1] * 1e6, y: s[2] }];
const blue = [...outliers, ...blue22, ...blue29, ...blue37, ...blue41, ...blue46, ...blue51, ...blue57, ...blue64, ...blue68, ...blue78, ...blue86, ...blue92, ...blue99, ...clumpsLeft, ...clumpsMid, ...clumpsRight];

const Dot = (props: any) => {
  const { cx, cy, fill } = props;
  return <path d={`M${cx - 1.2} ${cy - 2.5}h2.4v1.3h1.3v2.4h-1.3v1.3h-2.4v-1.3h-1.3v-2.4h1.3z`} fill={fill} />;
};
const NoDot = () => null;
const XTick = (props: any) => {
  const { x, y, payload } = props;
  const i = xTicks.indexOf(payload.value);
  return <text x={x} y={y + 15} textAnchor="middle" fontFamily={FONT} fontSize={10.5} fill="#333">{xTickLabels[i]}</text>;
};
const YTick = (props: any) => {
  const { x, y, payload } = props;
  const tx = x - 7;
  return <text x={tx} y={y} transform={`rotate(-90 ${tx} ${y})`} textAnchor="middle" fontFamily={FONT} fontSize={10.5} fill="#333">{payload.value}</text>;
};

export default function App() {
  return (
    <div style={{ position: "absolute", left: 0, top: 0, width: 1180, height: 1180, background: "#fff" }}>
      <ScatterChart width={1180} height={1180} margin={{ top: 49, right: 26, bottom: 0, left: 0 }}>
        <XAxis type="number" dataKey="x" domain={xDomain} ticks={xTicks} tick={<XTick />} tickLine={{ stroke: "#555" }} tickSize={6} axisLine={{ stroke: "#333" }} height={62} allowDataOverflow interval={0} />
        <YAxis type="number" dataKey="y" domain={yDomain} ticks={yTicks} tick={<YTick />} tickLine={{ stroke: "#555" }} tickSize={6} axisLine={{ stroke: "#555" }} width={49} allowDataOverflow interval={0} />
        <ReferenceArea x1={xDomain[0]} x2={xDomain[1]} y1={yDomain[0]} y2={yDomain[1]} fill="none" stroke="#333" strokeWidth={1} />
        <Scatter data={toRows(blue)} fill="#0000ff" shape={<Dot />} isAnimationActive={false} />
        <Scatter data={toRows(green)} fill="#00e600" shape={<Dot />} isAnimationActive={false} />
        <Scatter data={toRows(red)} fill="#cd2626" shape={<Dot />} isAnimationActive={false} />
        {pinkSegs.map((s, i) => (
          <Scatter key={"p" + i} data={segRows(s)} line={{ stroke: "#e066e6", strokeWidth: 1 }} shape={<NoDot />} isAnimationActive={false} />
        ))}
        {blackSegs.map((s, i) => (
          <Scatter key={"k" + i} data={segRows(s)} line={{ stroke: "#000", strokeWidth: 1 }} shape={<NoDot />} isAnimationActive={false} />
        ))}
      </ScatterChart>
      <div style={{ position: "absolute", left: 0, top: 1156, width: 1204, textAlign: "center", font: `11px ${FONT}`, color: "#333" }}>position, chr15</div>
      <div style={{ position: "absolute", left: 9, top: 584, font: `10.3px ${FONT}`, color: "#333", whiteSpace: "nowrap", transform: "translate(-50%,-50%) rotate(-90deg)" }}>normalized copy number profile</div>
    </div>
  );
}
